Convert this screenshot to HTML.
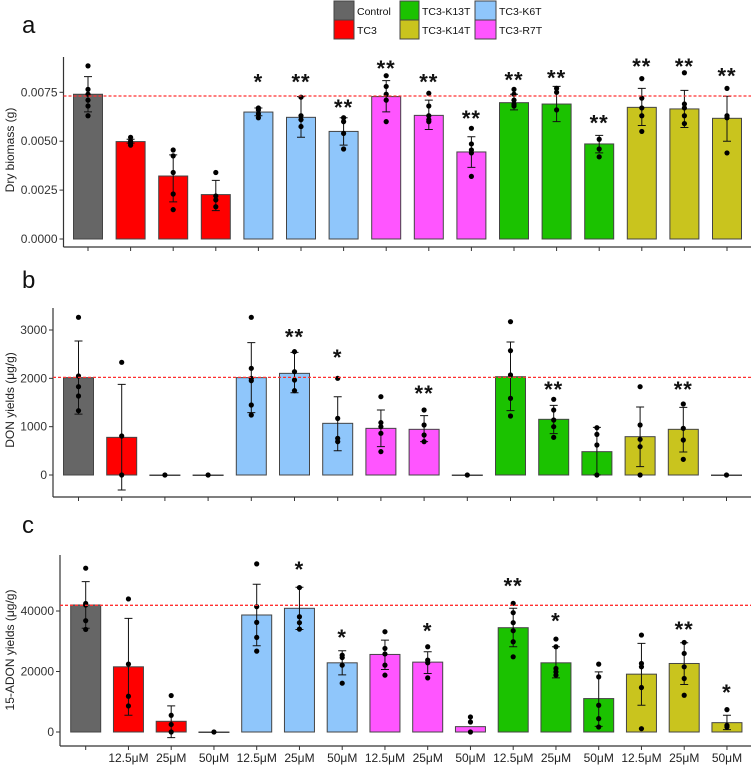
<!DOCTYPE html>
<html><head><meta charset="utf-8"><style>
html,body{margin:0;padding:0;background:#fff;}
svg{display:block;font-family:"Liberation Sans",Arial,sans-serif;}
</style></head><body>
<svg id="chart" width="755" height="767" viewBox="0 0 755 767" xmlns="http://www.w3.org/2000/svg">
<g font-size="10.5" fill="#111">
  <rect x="334" y="1" width="20" height="19" fill="#666666" stroke="#444"/>
  <text x="357" y="15">Control</text>
  <rect x="334" y="20" width="20" height="19" fill="#ff0000" stroke="#444"/>
  <text x="357" y="34">TC3</text>
  <rect x="400" y="1" width="19" height="19" fill="#1bc200" stroke="#444"/>
  <text x="422" y="15">TC3-K13T</text>
  <rect x="400" y="20" width="19" height="19" fill="#c9c41e" stroke="#444"/>
  <text x="422" y="34">TC3-K14T</text>
  <rect x="475" y="1" width="21" height="19" fill="#8fc6fb" stroke="#444"/>
  <text x="499" y="15">TC3-K6T</text>
  <rect x="475" y="20" width="21" height="19" fill="#ff55ff" stroke="#444"/>
  <text x="499" y="34">TC3-R7T</text>
</g>
<text x="22" y="33" font-size="24" fill="#111">a</text>
<text x="22" y="288" font-size="24" fill="#111">b</text>
<text x="22" y="533" font-size="24" fill="#111">c</text>
</svg>
<script>
const categories = ["Control","TC3 12.5μM","TC3 25μM","TC3 50μM","K6T 12.5μM","K6T 25μM","K6T 50μM","R7T 12.5μM","R7T 25μM","R7T 50μM","K13T 12.5μM","K13T 25μM","K13T 50μM","K14T 12.5μM","K14T 25μM","K14T 50μM"];
const xLabels = ["","12.5μM","25μM","50μM","12.5μM","25μM","50μM","12.5μM","25μM","50μM","12.5μM","25μM","50μM","12.5μM","25μM","50μM"];
const barColors = ["#666666","#ff0000","#ff0000","#ff0000","#8fc6fb","#8fc6fb","#8fc6fb","#ff55ff","#ff55ff","#ff55ff","#1bc200","#1bc200","#1bc200","#c9c41e","#c9c41e","#c9c41e"];

const aMeans = [0.0074,0.00498,0.00322,0.00227,0.00649,0.00622,0.0055,0.00728,0.00632,0.00445,0.00697,0.0069,0.00486,0.00673,0.00665,0.00617];
const aErrHi = [0.0083,0.0051,0.0043,0.0030,0.0067,0.00728,0.0062,0.0081,0.0071,0.00523,0.0074,0.0078,0.0053,0.0077,0.0076,0.0073];
const aErrLo = [0.0065,0.0049,0.0019,0.00145,0.0063,0.0052,0.0048,0.0065,0.0056,0.00366,0.0066,0.0060,0.0044,0.0058,0.0057,0.0050];
const aDots = [[0.00885,0.00765,0.0074,0.0071,0.0068,0.0063],[0.0052,0.0050,0.0049,0.0048],[0.00455,0.00425,0.0034,0.0023,0.0015],[0.0034,0.0022,0.0020,0.00165],[0.0067,0.0066,0.0064,0.0062],[0.00725,0.0063,0.0061,0.00575],[0.0062,0.0060,0.0054,0.0046],[0.00835,0.0078,0.0074,0.0071,0.0060],[0.00745,0.0068,0.0063,0.0061,0.0060],[0.00566,0.00486,0.00455,0.0044,0.0032],[0.00765,0.0074,0.0071,0.0069,0.0068],[0.0077,0.0075,0.0066],[0.0051,0.0046,0.0042],[0.0082,0.0072,0.0067,0.0063,0.0055],[0.0085,0.0069,0.0067,0.0063,0.0059],[0.0077,0.0063,0.0062,0.0044]];
const aStars = ["","","","","*","**","**","**","**","**","**","**","**","**","**","**"];
const aStarVal = [0,0,0,0,0.0082,0.0082,0.0069,0.0089,0.0082,0.00634,0.0083,0.0084,0.0061,0.009,0.009,0.0085];
const aTicks = [0,0.0025,0.005,0.0075];
const aTickLabels = ["0.0000","0.0025","0.0050","0.0075"];
const aRef = 0.00731;

const bMeans = [2014,779,0,0,2014,2103,1069,965,945,0,2034,1152,483,793,945,0];
const bErrHi = [2772,1876,0,0,2738,2538,1620,1345,1228,0,2752,1441,986,1407,1400,0];
const bErrLo = [1260,-310,0,0,1290,1703,503,586,690,0,1331,855,0,172,476,0];
const bDots = [[3262,2048,1827,1634,1331],[2331,807,0],[0],[0],[3262,2207,2000,1952,1448,1241],[2552,2138,1965,1745],[2000,1172,759,690],[1620,1083,1000,862,483],[1345,1034,828,690],[0],[3172,2572,2069,1586,1221],[1566,1345,1138,1000,779],[979,841,621,0],[1827,1034,738,586,0],[1469,966,724,324],[0]];
const bStars = ["","","","","","**","*","","**","","","**","","","**",""];
const bStarVal = [0,0,0,0,0,2931,2503,0,1759,0,0,1841,0,0,1841,0];
const bTicks = [0,1000,2000,3000];
const bTickLabels = ["0","1000","2000","3000"];
const bRef = 2020;

const cMeans = [41990,21550,3540,0,38680,40890,22870,25640,23100,1770,34480,22870,11050,19120,22650,3090];
const cErrHi = [49700,37570,8620,0,48840,47850,26850,30390,26520,0,40890,28180,19890,29280,29500,5530];
const cErrLo = [34300,5525,-1880,0,28510,33900,18900,20660,19340,0,28180,17900,1880,8840,15690,770];
const cDots = [[54150,41990,42500,36800,33900],[43980,22430,11820,8620],[12050,5525,2500,0],[0],[55580,41440,36240,31270,26740],[47740,38100,36130,34000],[25400,24600,22100,16130],[33150,27630,25800,22100,18790],[28180,23760,22870,17900],[4970,3300,0],[42540,39450,36130,33480,29840,24860],[30720,28180,21000,19890,18790],[22430,18230,8840,4420,1660],[32050,22650,21550,14700,1100],[29610,25970,21550,17680,12150],[7400,2210,1660]];
const cStars = ["","","","","","*","*","","*","","**","*","","","**","*"];
const cStarVal = [0,0,0,0,0,54900,32380,0,34480,0,49400,37900,0,0,35030,14140];
const cTicks = [0,20000,40000];
const cTickLabels = ["0","20000","40000"];
const cRef = 41880;

const NS = "http://www.w3.org/2000/svg";
const svg = document.getElementById("chart");
function mk(tag, attrs, parent) {
  const e = document.createElementNS(NS, tag);
  for (const k in attrs) e.setAttribute(k, attrs[k]);
  (parent || svg).appendChild(e);
  return e;
}

function drawPanel(p, means, hi, lo, dots, stars, starVal, ticks, tickLabels, ref, labels) {
  const g = mk("g", {});
  
  
  const yS = v => p.zeroY - (v - 0) * (p.zeroY - p.refTickY) / p.refTickVal;
  const xS = i => p.x0 + i * p.step;
  // axes
  const ya = mk("line", {x1:p.axisX, x2:p.axisX, y1:p.top, y2:p.axisY, stroke:"#333", "stroke-width":1.2}, g);
  
  
  const xa = mk("line", {x1:p.axisX, x2:751, y1:p.axisY, y2:p.axisY, stroke:"#333", "stroke-width":1.2}, g);
  
  
  ticks.forEach((t, k) => {
    const y = yS(t);
    const tl = mk("line", {x1:p.axisX-4, x2:p.axisX, y1:y, y2:y, stroke:"#333"}, g);
    
    
    const tx = mk("text", {x:p.axisX-6, y:y+4, "text-anchor":"end", "font-size":12, fill:"#333"}, g);
    tx.textContent = tickLabels[k];
    
    
  });
  const tt = mk("text", {x:0, y:0, "text-anchor":"middle", "font-size":12, fill:"#222", transform:"translate(" + p.titleX + "," + p.titleY + ") rotate(-90)"}, g);
  tt.textContent = p.title;
  
  
  means.forEach((m, i) => {
    const cx = xS(i), w = p.bw;
    const tk = mk("line", {x1:cx, x2:cx, y1:p.axisY, y2:p.axisY+4, stroke:"#333"}, g);
    
    
    if (labels) {
      const lt = mk("text", {x:cx, y:p.axisY+16, "text-anchor":"middle", "font-size":12, fill:"#222"}, g);
      lt.textContent = labels[i];
      
      
    }
    const y0 = yS(0), y1 = yS(m);
    const r = mk("rect", {x:cx-w/2, y:Math.min(y0,y1), width:w, height:Math.max(Math.abs(y0-y1),0.5), fill:barColors[i], stroke:"#444", "stroke-width":1}, g);
    
    
    if (hi[i] !== lo[i]) {
      const eb = mk("path", {d:"M"+(cx-4)+","+yS(hi[i])+"h8M"+cx+","+yS(hi[i])+"V"+yS(lo[i])+"M"+(cx-4)+","+yS(lo[i])+"h8", stroke:"#111", "stroke-width":1, fill:"none"}, g);
      
      
    }
    dots[i].forEach(d => {
      const c = mk("circle", {cx:cx, cy:yS(d), r:2.6, fill:"#000"}, g);
      
      
    });
    if (stars[i]) {
      const s = mk("text", {x:cx, y:yS(starVal[i])+11, "text-anchor":"middle", "font-size":22, "font-weight":"bold", fill:"#111", "letter-spacing":"1"}, g);
      s.textContent = stars[i];
      
      
    }
  });
  const rl = mk("line", {x1:p.axisX, x2:751, y1:yS(ref), y2:yS(ref), stroke:"#ff3030", "stroke-width":1.3, "stroke-dasharray":"3,2"}, g);
  
  
}

drawPanel({id:"a", axisX:63.5, top:57, axisY:247, zeroY:239, refTickY:92.3, refTickVal:0.0075, x0:88, step:42.6, bw:29, title:"Dry biomass (g)", titleX:14, titleY:150},
  aMeans, aErrHi, aErrLo, aDots, aStars, aStarVal, aTicks, aTickLabels, aRef, null);
drawPanel({id:"b", axisX:53, top:308, axisY:497, zeroY:475, refTickY:330, refTickVal:3000, x0:78.5, step:43.2, bw:30, title:"DON yields (μg/g)", titleX:14, titleY:400},
  bMeans, bErrHi, bErrLo, bDots, bStars, bStarVal, bTicks, bTickLabels, bRef, null);
drawPanel({id:"c", axisX:60, top:555, axisY:746, zeroY:732, refTickY:611, refTickVal:40000, x0:85.7, step:42.75, bw:30, title:"15-ADON yields (μg/g)", titleX:14, titleY:650},
  cMeans, cErrHi, cErrLo, cDots, cStars, cStarVal, cTicks, cTickLabels, cRef, xLabels);
</script>
</body></html>
